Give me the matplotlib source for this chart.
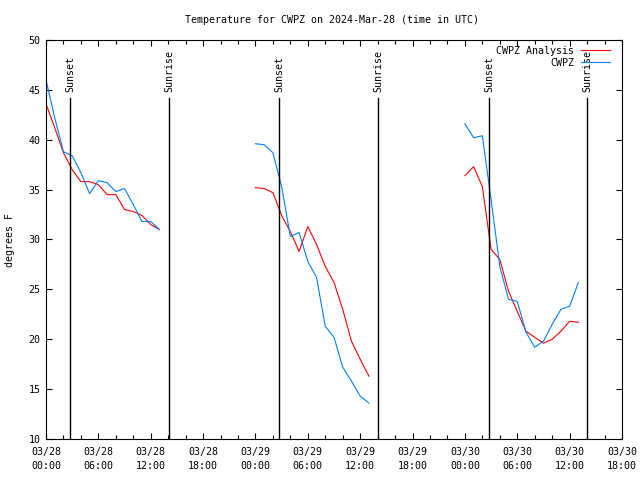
import matplotlib
matplotlib.use('Agg')
import matplotlib.pyplot as plt
from matplotlib.ticker import MultipleLocator, FuncFormatter

# Data: hours since 2024-03-28 00:00 UTC
hours1 = list(range(0, 14))
hours2 = list(range(24, 38))
hours3 = list(range(48, 62))

analysis1 = [43.6, 41.2, 38.7, 37.0, 35.8, 35.8, 35.5, 34.5, 34.5, 33.0, 32.8, 32.4, 31.5, 31.0]
analysis2 = [35.2, 35.1, 34.7, 32.4, 30.8, 28.8, 31.3, 29.5, 27.3, 25.7, 23.0, 19.8, 18.0, 16.3]
analysis3 = [36.4, 37.3, 35.3, 29.0, 28.0, 24.8, 22.8, 20.8, 20.2, 19.6, 20.0, 20.8, 21.8, 21.7]

obs1 = [46.0, 42.2, 38.8, 38.4, 36.7, 34.6, 35.9, 35.7, 34.8, 35.1, 33.5, 31.8, 31.8, 31.0]
obs2 = [39.6, 39.5, 38.7, 35.3, 30.3, 30.7, 27.8, 26.2, 21.3, 20.2, 17.2, 15.8, 14.3, 13.6]
obs3 = [41.6, 40.2, 40.4, 34.0, 27.3, 24.0, 23.8, 20.7, 19.2, 19.8, 21.5, 23.0, 23.3, 25.7]

sunset_hours = [2.8, 26.75, 50.8]
sunrise_hours = [14.1, 38.05, 62.0]

FONT = 'DejaVu Sans Mono'
FS = 7.2
RED = '#ff0000'
BLUE = '#0080ff'

plt.rcParams['font.family'] = FONT
plt.rcParams['font.size'] = FS


def time_label(h, pos):
    h = int(round(h))
    day = 28 + h // 24
    return f"03/{day:02d}\n{h % 24:02d}:00"


def main():
    fig = plt.figure(figsize=(6.4, 4.8), dpi=100)
    ax = fig.add_axes([46 / 640, 41 / 480, 576 / 640, 399 / 480])

    first = True
    for hrs, ana, obs in [(hours1, analysis1, obs1), (hours2, analysis2, obs2), (hours3, analysis3, obs3)]:
        ax.plot(hrs, ana, color=RED, lw=0.8, label='CWPZ Analysis' if first else None)
        ax.plot(hrs, obs, color=BLUE, lw=0.8, label='CWPZ' if first else None)
        first = False

    for h in sunset_hours:
        ax.plot([h, h], [10, 44.2], color='black', lw=1.0)
        ax.text(h, 44.8, 'Sunset', rotation=90, ha='center', va='bottom', fontsize=FS)
    for h in sunrise_hours:
        ax.plot([h, h], [10, 44.2], color='black', lw=1.0)
        ax.text(h, 44.8, 'Sunrise', rotation=90, ha='center', va='bottom', fontsize=FS)

    ax.set_xlim(0, 66)
    ax.set_ylim(10, 50)
    ax.xaxis.set_major_locator(MultipleLocator(6))
    ax.xaxis.set_minor_locator(MultipleLocator(2))
    ax.yaxis.set_major_locator(MultipleLocator(5))
    ax.xaxis.set_major_formatter(FuncFormatter(time_label))
    ax.tick_params(which='both', direction='in', top=True, right=True, width=0.8)
    ax.tick_params(which='major', length=4)
    ax.tick_params(which='minor', length=3)
    ax.tick_params(axis='x', pad=6)
    ax.tick_params(axis='y', pad=4)
    for lab in ax.get_xticklabels():
        lab.set_linespacing(1.5)
    for sp in ax.spines.values():
        sp.set_linewidth(0.8)

    fig.text(10 / 640, 1 - 240 / 480, 'degrees F', rotation=90, ha='center', va='center', fontsize=FS)
    fig.text(332 / 640, 1 - 20 / 480, 'Temperature for CWPZ on 2024-Mar-28 (time in UTC)',
             ha='center', va='center', fontsize=FS)

    # legend: text right-aligned, line sample on the right (gnuplot style)
    ax.legend(loc='upper right', bbox_to_anchor=(564 / 576, 393 / 399), frameon=False, markerfirst=False,
              handlelength=2.9, handletextpad=0.7, borderpad=0.0, borderaxespad=0.0,
              labelspacing=0.2, fontsize=FS)

    fig.savefig('out.png', dpi=100)


if __name__ == '__main__':
    main()
